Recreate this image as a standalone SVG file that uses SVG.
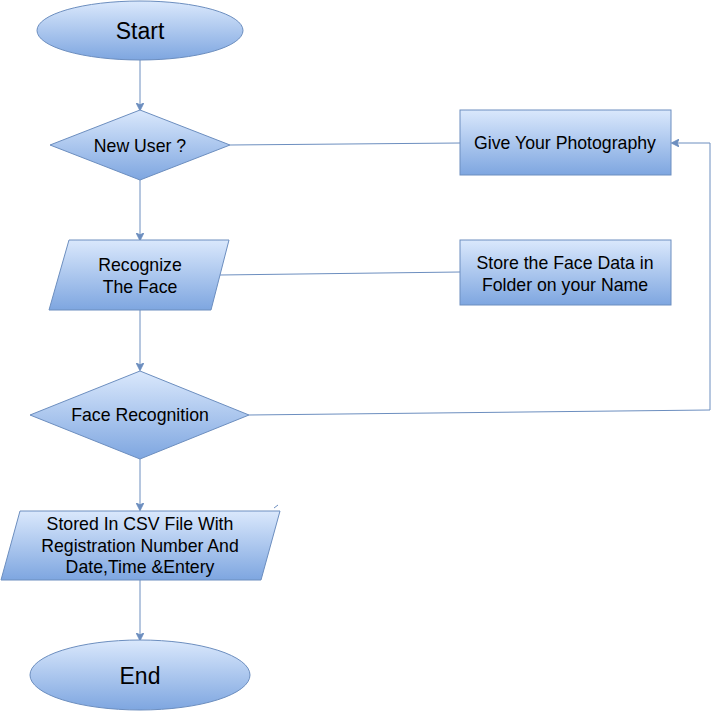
<svg xmlns="http://www.w3.org/2000/svg" width="719" height="711" viewBox="0 0 719 711">
<defs>
<linearGradient id="g" x1="0" y1="0" x2="0" y2="1">
<stop offset="0" stop-color="#dae8fc"/>
<stop offset="1" stop-color="#7ea6e0"/>
</linearGradient>
<marker id="arr" viewBox="0 0 10 10" refX="9" refY="5" markerWidth="8" markerHeight="8" markerUnits="userSpaceOnUse" orient="auto">
<path d="M0,0 L10,5 L0,10 L2.5,5 Z" fill="#6c8ebf" stroke="#6c8ebf" stroke-width="1"/>
</marker>
</defs>
<style>
.s{fill:url(#g);stroke:#6c8ebf;stroke-width:1}
.t{font-family:"Liberation Sans",Arial,sans-serif;font-size:17.7px;fill:#000;text-anchor:middle;dominant-baseline:central}
.b{font-size:23px}
.c{fill:none;stroke:#6c8ebf;stroke-width:1}
</style>
<rect width="719" height="711" fill="#fff"/>
<g id="connectors">
<path class="c" d="M140,60 L140,110" marker-end="url(#arr)"/>
<path class="c" d="M230,145 L460,143"/>
<path class="c" d="M140,180 L140,240" marker-end="url(#arr)"/>
<path class="c" d="M220,275 L460,272"/>
<path class="c" d="M140,310 L140,370" marker-end="url(#arr)"/>
<path class="c" d="M249,415 L710,410 L710,143 L672,143" marker-end="url(#arr)"/>
<path class="c" d="M140,459 L140,510" marker-end="url(#arr)"/>
<path class="c" d="M140,580 L140,640" marker-end="url(#arr)"/>
<path class="c" d="M274,508 L278,505"/>
</g>
<g id="start">
<ellipse class="s" cx="140" cy="30.5" rx="103" ry="29.5"/>
<text class="t b" x="140" y="31">Start</text>
</g>
<g id="newuser">
<polygon class="s" points="140,110 230,145 140,180 50,145"/>
<text class="t" x="140" y="145.5">New User ?</text>
</g>
<g id="photo">
<rect class="s" x="460" y="110" width="211" height="65"/>
<text class="t" x="565" y="143">Give Your Photography</text>
</g>
<g id="recognize">
<polygon class="s" points="69,240 229,240 211,310 49,310"/>
<text class="t" x="140" y="265">Recognize</text>
<text class="t" x="140" y="287">The Face</text>
</g>
<g id="store">
<rect class="s" x="460" y="240" width="211" height="65"/>
<text class="t" x="565" y="263">Store the Face Data in</text>
<text class="t" x="565" y="284.5">Folder on your Name</text>
</g>
<g id="facerec">
<polygon class="s" points="140,371 249,415 140,459 30,415"/>
<text class="t" x="140" y="415">Face Recognition</text>
</g>
<g id="csv">
<polygon class="s" points="20,511 280,511 261,580 1,580"/>
<text class="t" x="140" y="523.5">Stored In CSV File With</text>
<text class="t" x="140" y="545.5">Registration Number And</text>
<text class="t" x="140" y="567">Date,Time &amp;Entery</text>
</g>
<g id="end">
<ellipse class="s" cx="140" cy="675" rx="110" ry="35"/>
<text class="t b" x="140" y="676">End</text>
</g>
</svg>
